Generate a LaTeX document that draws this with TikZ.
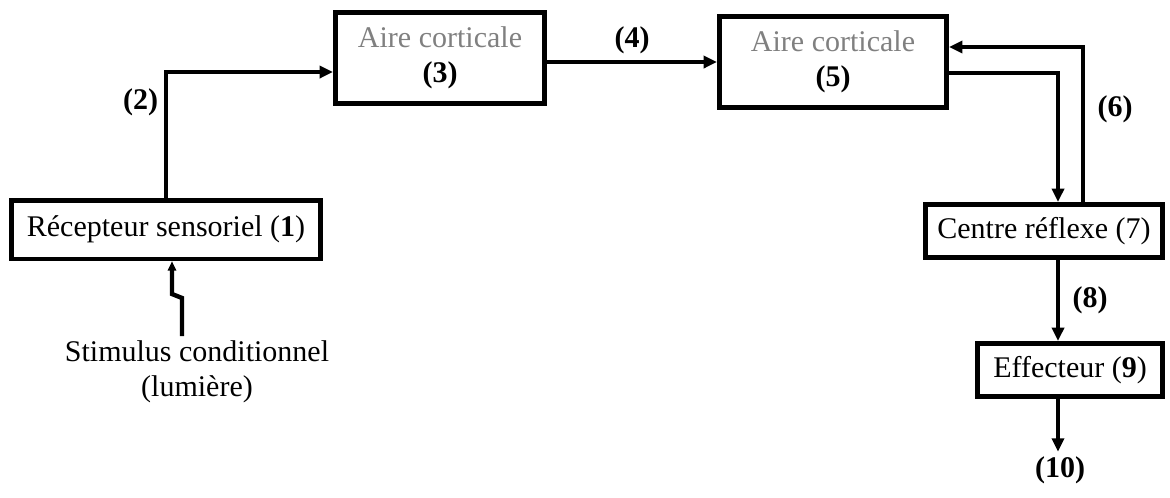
\documentclass[tikz,border=0pt]{standalone}
\usepackage{fontspec}
\setmainfont{Liberation Serif}
\usetikzlibrary{arrows.meta,calc}

\begin{document}
\begin{tikzpicture}[x=0.75pt,y=-0.75pt,
    font=\fontsize{22.5}{26}\selectfont,
    box/.style={draw, line width=3.5pt, inner sep=0pt, align=center},
    conn/.style={line width=3.3pt, -{Triangle[length=10pt,width=9pt]}},
    lbl/.style={font=\fontsize{22.5}{26}\selectfont\bfseries}]
            \useasboundingbox (0,0) rectangle (1170,497);
            \node[box, minimum width=232pt, minimum height=44pt] at (166,229.5) (rec) {R\'ecepteur sensoriel (\textbf{1})};
            \node[box, minimum width=157pt, minimum height=68.5pt] at (440,58) (ac3) {\textcolor{gray}{Aire corticale}\\\textbf{(3)}};
            \node[box, minimum width=170.5pt, minimum height=68.5pt] at (833,62) (ac5) {\textcolor{gray}{Aire corticale}\\\textbf{(5)}};
            \node[box, minimum width=178pt, minimum height=40pt] at (1044,231) (cr) {Centre r\'eflexe (7)};
            \node[box, minimum width=139pt, minimum height=40pt] at (1070,370) (eff) {Effecteur (\textbf{9})};
            \node[align=center] at (197,372) (stim) {Stimulus conditionnel\\(lumi\`ere)};
            \node[lbl] at (1060,470) (out) {(10)};
            \coordinate (a) at ($(cr.south)+(14,0)$);
            % liaisons
            \draw[conn] (rec.north) |- ($(ac3.west)+(0,14)$) node[lbl, pos=0.38, left=1pt] {(2)};
            \draw[conn] (ac3.east |- ac5.west) -- (ac5.west) node[lbl, midway, above=1pt] {(4)};
            \draw[conn] ($(ac5.east)+(0,11)$) -| ($(cr.north)+(14,0)$);
            \draw[conn] ($(cr.north)+(39,0)$) |- ($(ac5.east)+(0,-15)$) node[lbl, pos=0.3, right=6pt] {(6)};
            \draw[conn] (a) -- (a |- eff.north) node[lbl, midway, right=6pt] {(8)};
            \draw[conn] (a |- eff.south) -- (a |- out.north);
            \draw[line width=3.3pt, -{Triangle[length=7pt,width=6pt]}] (182,336) -- (182,298) -- (172,294) -- (rec.south -| 172,0);
        \end{tikzpicture}
\end{document}
